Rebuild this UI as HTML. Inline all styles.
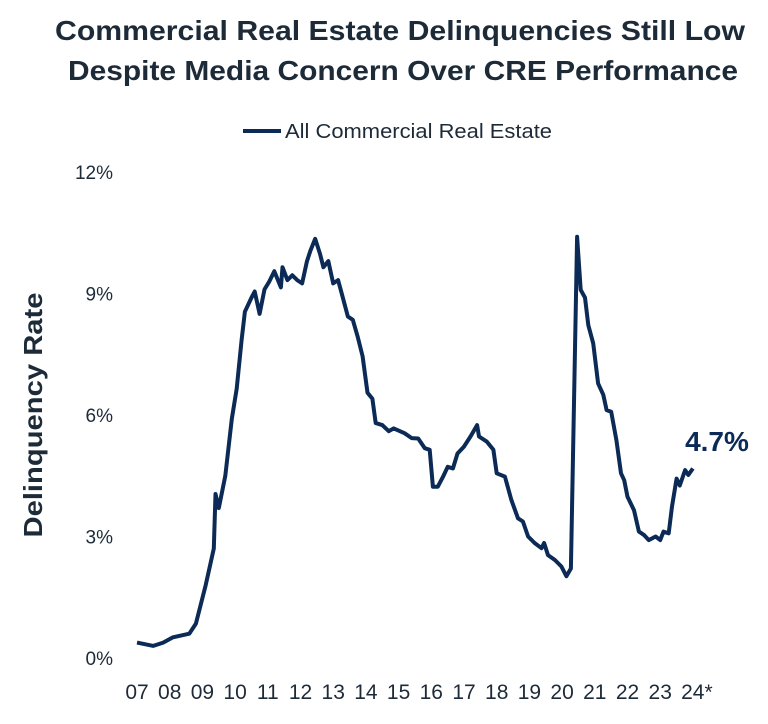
<!DOCTYPE html>
<html><head><meta charset="utf-8"><style>
body{margin:0;background:#fff;width:768px;height:719px;overflow:hidden;font-family:"Liberation Sans",sans-serif}
</style></head><body>
<svg width="768" height="719" id="c">
<text x="400" y="40" text-anchor="middle" font-size="28" font-weight="bold" fill="#1d2a38" textLength="690" lengthAdjust="spacingAndGlyphs">Commercial Real Estate Delinquencies Still Low</text>
<text x="403" y="80" text-anchor="middle" font-size="28" font-weight="bold" fill="#1d2a38" textLength="670" lengthAdjust="spacingAndGlyphs">Despite Media Concern Over CRE Performance</text>
<g>
<line x1="243" y1="131" x2="281" y2="131" stroke="#0b2a55" stroke-width="4"/>
<text x="285" y="138" font-size="20" fill="#1d2a38" textLength="267" lengthAdjust="spacingAndGlyphs">All Commercial Real Estate</text>
</g>
<text transform="translate(42,415) rotate(-90)" text-anchor="middle" font-size="26" font-weight="bold" fill="#1d2a38" textLength="245" lengthAdjust="spacingAndGlyphs">Delinquency Rate</text>
<g id="yt"></g><g id="xt"></g>
<path id="ln" fill="none" stroke="#0b2a55" stroke-width="4" stroke-linejoin="round"/>
<text x="717" y="451" text-anchor="middle" font-size="28" font-weight="bold" fill="#0b2a55">4.7%</text>
</svg>
<script>
const years=[2007,2007.5,2007.8,2008.1,2008.6,2008.8,2009.1,2009.35,2009.4,2009.5,2009.7,2009.9,2010.05,2010.2,2010.3,2010.5,2010.6,2010.75,2010.9,2011.05,2011.2,2011.4,2011.45,2011.6,2011.75,2011.9,2012.05,2012.2,2012.3,2012.45,2012.6,2012.7,2012.85,2013,2013.15,2013.25,2013.45,2013.6,2013.75,2013.9,2014.05,2014.2,2014.3,2014.5,2014.7,2014.85,2015.18,2015.4,2015.6,2015.8,2015.95,2016.05,2016.2,2016.36,2016.5,2016.66,2016.8,2017,2017.2,2017.4,2017.46,2017.7,2017.9,2018,2018.25,2018.45,2018.65,2018.8,2018.96,2019.16,2019.37,2019.45,2019.57,2019.78,2019.98,2020.13,2020.27,2020.46,2020.57,2020.7,2020.8,2020.95,2021.1,2021.26,2021.36,2021.5,2021.66,2021.8,2021.9,2022,2022.2,2022.35,2022.5,2022.65,2022.86,2023,2023.1,2023.26,2023.36,2023.5,2023.6,2023.76,2023.86,2024];
const rates=[0.38,0.3,0.38,0.51,0.6,0.85,1.8,2.7,4.05,3.7,4.5,5.9,6.65,7.85,8.55,8.9,9.05,8.5,9.1,9.3,9.55,9.15,9.65,9.33,9.45,9.33,9.25,9.8,10.05,10.35,9.97,9.65,9.8,9.25,9.33,9.03,8.43,8.35,7.93,7.45,6.55,6.4,5.8,5.75,5.6,5.67,5.55,5.43,5.42,5.18,5.14,4.23,4.23,4.48,4.72,4.68,5.05,5.22,5.47,5.75,5.47,5.34,5.14,4.56,4.48,3.9,3.45,3.37,3.0,2.84,2.71,2.84,2.54,2.42,2.26,2.02,2.21,10.4,9.09,8.9,8.22,7.77,6.78,6.5,6.12,6.08,5.38,4.56,4.39,3.98,3.65,3.12,3.04,2.91,3.0,2.91,3.12,3.08,3.74,4.43,4.26,4.64,4.52,4.68];
const yTicks=[0,3,6,9,12];
const yTickLabels=["0%","3%","6%","9%","12%"];
const xTicks=[2007,2008,2009,2010,2011,2012,2013,2014,2015,2016,2017,2018,2019,2020,2021,2022,2023,2024];
const xTickLabels=["07","08","09","10","11","12","13","14","15","16","17","18","19","20","21","22","23","24*"];
const X=v=>137+(v-2007)*32.7, Y=v=>658-v*40.5;
const ns="http://www.w3.org/2000/svg";
const yt=document.getElementById('yt'), xt=document.getElementById('xt');
yTicks.forEach((v,i)=>{const t=document.createElementNS(ns,'text');


t.setAttribute('x',113);t.setAttribute('y',Y(v)+7);t.setAttribute('text-anchor','end');t.setAttribute('font-size','19');t.setAttribute('fill','#1d2a38');t.textContent=yTickLabels[i];yt.appendChild(t);});
xTicks.forEach((v,i)=>{const t=document.createElementNS(ns,'text');


t.setAttribute('x',X(v)+(i==17?4:0));t.setAttribute('y',699);t.setAttribute('text-anchor','middle');t.setAttribute('font-size','21');t.setAttribute('fill','#1d2a38');t.textContent=xTickLabels[i];xt.appendChild(t);});
document.getElementById('ln').setAttribute('d',years.map((y,i)=>(i?'L':'M')+X(y).toFixed(1)+','+Y(rates[i]).toFixed(1)).join(''));
</script>
</body></html>
